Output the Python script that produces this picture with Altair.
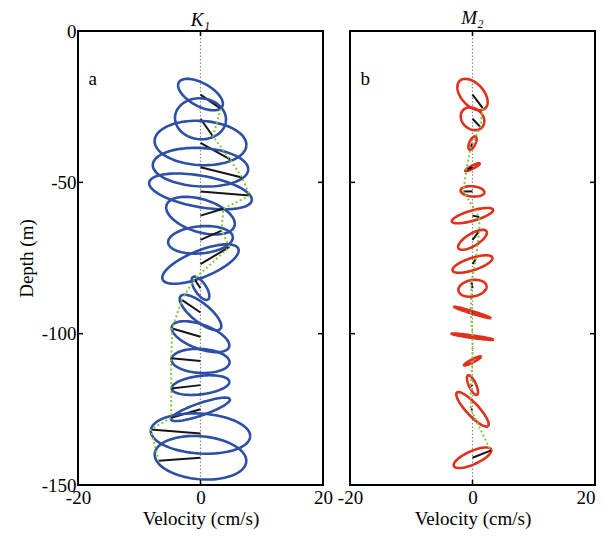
import math
import altair as alt
import pandas as pd

# ---- data ----------------------------------------------------------------
# depth of each ellipse centre (m), ellipse semi-major / semi-minor axes (cm/s),
# inclination (deg, counter-clockwise from east), tip of the current vector (cm/s)
k1_depth = [-21, -29, -37, -45, -53, -61, -69, -77, -85, -93, -101, -109, -117, -125, -133, -141]
k1_major = [4.05, 4.17, 7.5, 7.8, 8.5, 5.8, 5.3, 6.67, 2.2, 4.2, 4.95, 4.75, 4.75, 5.08, 8.13, 7.5]
k1_minor = [1.87, 3.33, 3.6, 3.13, 2.55, 2.67, 2.2, 2.17, 0.92, 1.5, 1.98, 1.95, 1.5, 1.0, 3.25, 3.5]
k1_incl = [-29, -5, -3, -3, -10, -17, 5, 22, -56, -39, -20, -3, 7, 19, -3.5, -5]
k1_tip_u = [3.3, 2.05, 4.83, 6.78, 8.05, 3.72, 3.45, 4.72, -1.0, -3.05, -4.62, -4.78, -4.78, -4.78, -8.12, -6.83]
k1_tip_v = [-2.3, -2.88, -2.67, -1.67, -0.67, 1.12, 1.5, 2.78, 1.5, 2.05, 1.33, 0.45, -0.55, -1.38, 0.67, -0.5]

m2_depth = [-21, -29, -37, -45, -53, -61, -69, -77, -85, -93, -101, -109, -117, -125, -141]
m2_major = [3.05, 2.08, 1.17, 1.33, 1.95, 3.5, 2.67, 3.42, 2.33, 3.13, 3.45, 1.55, 1.75, 3.73, 3.33]
m2_minor = [1.83, 1.67, 0.5, 0.25, 0.83, 0.83, 1.0, 1.0, 1.33, 0.2, 0.2, 0.25, 0.58, 1.0, 1.08]
m2_incl = [-47, -40, 65, 27, -5, 16, 31, 18, 10, -17, -8, 27, -65, -47, 24]
m2_tip_u = [1.67, 1.28, -0.28, -1.0, -1.5, 1.1, 1.1, 0.55, -0.17, -0.28, 0.0, 0.0, -0.28, -0.28, 2.95]
m2_tip_v = [-2.22, -1.33, -0.67, -0.45, 0.0, -0.22, 1.4, 0.83, 0.95, 0.0, 0.0, 0.0, -0.17, 0.0, 1.17]

x_ticks = [-20, 0, 20]
y_ticks = [0, -50, -100, -150]
x_inner_ticks = [0]
y_inner_ticks = [-50, -100]

V_SCALE = 2.03   # metres on the depth axis per cm/s of northward velocity
N_PTS = 90
W, H = 245, 454
TICK = 5

XS = alt.Scale(domain=[-20, 20], nice=False, zero=False)
YS = alt.Scale(domain=[-150, 0], nice=False, zero=False)
FONT = "Liberation Serif"


def build(depths, major, minor, incl, tip_u, tip_v, ecolor):
    curves, tips = [], []
    for i, (d, a, b, th, tu, tv) in enumerate(zip(depths, major, minor, incl, tip_u, tip_v)):
        r = math.radians(th)
        seg = f"{2 * i:03d}"
        for k in range(N_PTS + 1):
            t = 2 * math.pi * k / N_PTS
            u = a * math.cos(t) * math.cos(r) - b * math.sin(t) * math.sin(r)
            v = a * math.cos(t) * math.sin(r) + b * math.sin(t) * math.cos(r)
            curves.append(dict(seg=seg, ord=k, x=u, y=d + V_SCALE * v, color=ecolor, w=2.6))
        seg2 = f"{2 * i + 1:03d}"
        curves.append(dict(seg=seg2, ord=0, x=0.0, y=d, color="#151515", w=2.0))
        curves.append(dict(seg=seg2, ord=1, x=tu, y=d + V_SCALE * tv, color="#151515", w=2.0))
        tips.append(dict(ord=i, x=tu, y=d + V_SCALE * tv))
    return pd.DataFrame(curves), pd.DataFrame(tips)


def panel(depths, major, minor, incl, tip_u, tip_v, ecolor, title, letter, show_y,
          right_flush, title_offset):
    curves, tips = build(depths, major, minor, incl, tip_u, tip_v, ecolor)
    x_kw = dict(values=x_ticks, ticks=False, tickSize=0, domain=False, grid=False,
                title="Velocity (cm/s)", labelExpr="'' + datum.value",
                labelPadding=3, titlePadding=2, labelFlush=False)
    if right_flush:
        x_kw["labelAlign"] = alt.ExprRef(expr="datum.value == 20 ? 'right' : 'center'")
    x_main = alt.Axis(**x_kw)
    if show_y:
        y_main = alt.Axis(values=y_ticks, ticks=False, tickSize=0, domain=False, grid=False,
                          title="Depth (m)", labelExpr="'' + datum.value",
                          labelPadding=2, titlePadding=5, labelFlush=False)
    else:
        y_main = None

    zero = alt.Chart(pd.DataFrame({"x": [0]})).mark_rule(
        color="#8a8a8a", strokeDash=[1.5, 2], strokeWidth=1.2
    ).encode(x=alt.X("x:Q", scale=XS, axis=None))

    lines = alt.Chart(curves).mark_line().encode(
        x=alt.X("x:Q", scale=XS, axis=x_main),
        y=alt.Y("y:Q", scale=YS, axis=y_main),
        detail="seg:N",
        order="ord:Q",
        color=alt.Color("color:N", scale=None),
        strokeWidth=alt.StrokeWidth("w:Q", scale=None),
    )

    green = alt.Chart(tips).mark_line(
        color="#86c440", strokeDash=[2, 2.5], strokeWidth=2
    ).encode(
        x=alt.X("x:Q", scale=XS, axis=None),
        y=alt.Y("y:Q", scale=YS, axis=None),
        order="ord:Q",
    )

    # inward frame ticks (MATLAB-style box)
    yt = alt.Chart(pd.DataFrame({"v": y_inner_ticks}))
    xt = alt.Chart(pd.DataFrame({"u": x_inner_ticks}))
    tick_style = dict(color="black", strokeWidth=1.5)
    left_t = yt.mark_rule(**tick_style).encode(
        y=alt.Y("v:Q", scale=YS, axis=None), x=alt.value(0), x2=alt.value(TICK))
    right_t = yt.mark_rule(**tick_style).encode(
        y=alt.Y("v:Q", scale=YS, axis=None), x=alt.value(W - TICK), x2=alt.value(W))
    top_t = xt.mark_rule(**tick_style).encode(
        x=alt.X("u:Q", scale=XS, axis=None), y=alt.value(0), y2=alt.value(TICK))
    bot_t = xt.mark_rule(**tick_style).encode(
        x=alt.X("u:Q", scale=XS, axis=None), y=alt.value(H - TICK), y2=alt.value(H))

    label = alt.Chart(pd.DataFrame({"x": [-18.3], "y": [-16], "t": [letter]})).mark_text(
        align="left", baseline="middle", font=FONT, fontSize=19, color="black"
    ).encode(
        x=alt.X("x:Q", scale=XS, axis=None),
        y=alt.Y("y:Q", scale=YS, axis=None),
        text="t:N",
    )

    return alt.layer(zero, lines, green, left_t, right_t, top_t, bot_t, label).resolve_axis(
        x="independent", y="independent"
    ).properties(
        width=W, height=H,
        title=alt.TitleParams(text=title, font=FONT, fontSize=19, fontStyle="italic",
                              fontWeight="normal", color="black", offset=title_offset,
                              anchor="middle"),
    )


pa = panel(k1_depth, k1_major, k1_minor, k1_incl, k1_tip_u, k1_tip_v, "#2e4fa6",
           "K\u2081", "a", True, False, -8)
pb = panel(m2_depth, m2_major, m2_minor, m2_incl, m2_tip_u, m2_tip_v, "#e0301e",
           "M\u2082", "b", False, True, 2)

chart = alt.hconcat(pa, pb, spacing=27, bounds="flush").properties(
    padding={"left": 8, "top": 0, "right": 0, "bottom": 0}
).configure_view(
    stroke="black", strokeWidth=2
).configure_axis(
    labelFont=FONT, titleFont=FONT, labelFontSize=19, titleFontSize=19,
    titleFontWeight="normal", labelColor="black", titleColor="black"
).configure_title(
    font=FONT, fontSize=19, fontStyle="italic", fontWeight="normal", color="black"
)

chart.save("out.html", embed_options={"renderer": "svg", "actions": False})
